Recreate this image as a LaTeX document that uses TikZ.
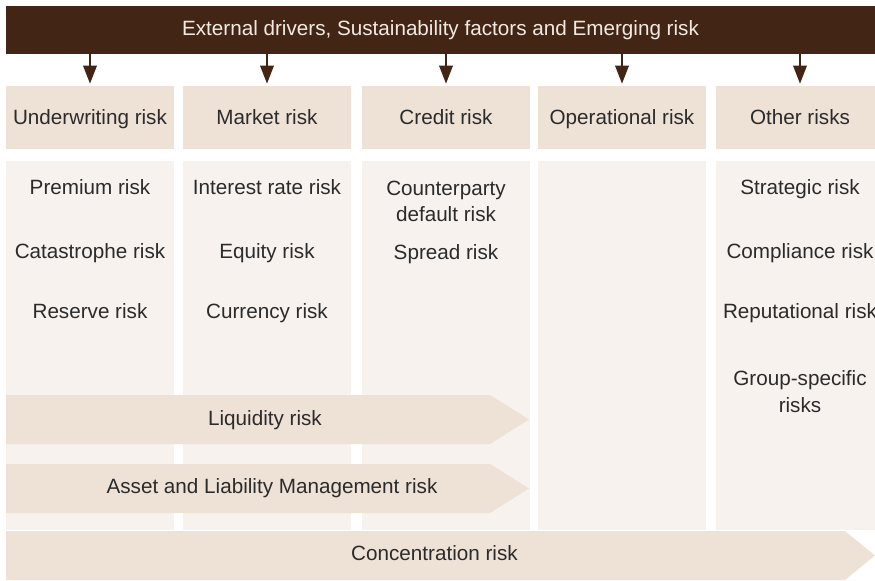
\documentclass[tikz,border=0pt]{standalone}
\usepackage{fontspec}
\setmainfont{Liberation Sans}
\usepackage{tikz}
\usetikzlibrary{arrows.meta,positioning}

\definecolor{barbrown}{HTML}{422515}
\definecolor{headbeige}{HTML}{EEE2D7}
\definecolor{bodybeige}{HTML}{F7F2EE}
\definecolor{inktext}{HTML}{2B2B2B}
\definecolor{bartext}{HTML}{F2EAE2}

\begin{document}
\begin{tikzpicture}[
    x=0.75pt, y=-0.75pt,
    font=\fontsize{15.5}{20.25}\selectfont,
    bar/.style={rectangle, fill=barbrown, text=bartext, minimum width=651.75pt, minimum height=36pt, inner sep=0pt},
    riskhead/.style={rectangle, fill=headbeige, text=inktext, minimum width=126pt, minimum height=47.25pt, inner sep=0pt, text height=11pt, text depth=0pt},
    riskcol/.style={rectangle, fill=bodybeige, minimum width=126pt, minimum height=276.75pt, inner sep=0pt},
    item/.style={text=inktext, anchor=base, align=center, inner sep=0pt},
    drop/.style={-{Triangle[width=10pt,length=13.5pt]}, line width=1.6pt, draw=barbrown, shorten >=1.5pt}
]
    \useasboundingbox (0,0) rectangle (875,581);
    \clip (0,0) rectangle (875,581);

    \node[bar] (drivers) at (440.5,30) {External drivers, Sustainability factors and Emerging risk};

    \node[riskhead] (uw) at (90,117.5) {Underwriting risk};
    \node[riskhead] (mkt) at (267,117.5) {Market risk};
    \node[riskhead] (cred) at (446,117.5) {Credit risk};
    \node[riskhead] (ops) at (622,117.5) {Operational risk};
    \node[riskhead] (oth) at (800,117.5) {Other risks};

    \draw[drop] (drivers.south -| uw.north) -- (uw.north);
    \draw[drop] (drivers.south -| mkt.north) -- (mkt.north);
    \draw[drop] (drivers.south -| cred.north) -- (cred.north);
    \draw[drop] (drivers.south -| ops.north) -- (ops.north);
    \draw[drop] (drivers.south -| oth.north) -- (oth.north);

    % columns
    \node[riskcol] (uwcol) at (90,345.5) {};
    \node[riskcol] (mktcol) at (267,345.5) {};
    \node[riskcol] (credcol) at (446,345.5) {};
    \node[riskcol] (opscol) at (622,345.5) {};
    \node[riskcol] (othcol) at (800,345.5) {};

    \node[item] (premium) at (90,195) {Premium risk};
    \node[item] (cat) at (90,258) {Catastrophe risk};
    \node[item] (reserve) at (90,318) {Reserve risk};

    \node[item] (rate) at (267,195) {Interest rate risk};
    \node[item] (equity) at (267,258) {Equity risk};
    \node[item] (fx) at (267,318) {Currency risk};

    \node[item] (cpty) at (446,222) {Counterparty\\default risk};
    \node[item] (spread) at (446,260) {Spread risk};

    \node[item] (strat) at (800,195) {Strategic risk};
    \node[item] (compl) at (800,258) {Compliance risk};
    \node[item] (rep) at (800,318) {Reputational risk};
    \node[item] (group) at (800,412) {Group-specific\\risks};

    % bands across columns
    \fill[headbeige] (6,395) -- (490,395) -- (529,419.5) -- (490,444) -- (6,444) -- cycle;
    \fill[headbeige] (6,464) -- (490,464) -- (529,488.5) -- (490,513) -- (6,513) -- cycle;
    \fill[headbeige] (6,531) -- (845,531) -- (875,555.5) -- (845,580) -- (6,580) -- cycle;
    \node[item] (liq) at (265,425) {Liquidity risk};
    \node[item] (alm) at (272,493) {Asset and Liability Management risk};
    \node[item] (conc) at (434.5,560) {Concentration risk};
\end{tikzpicture}
\end{document}
